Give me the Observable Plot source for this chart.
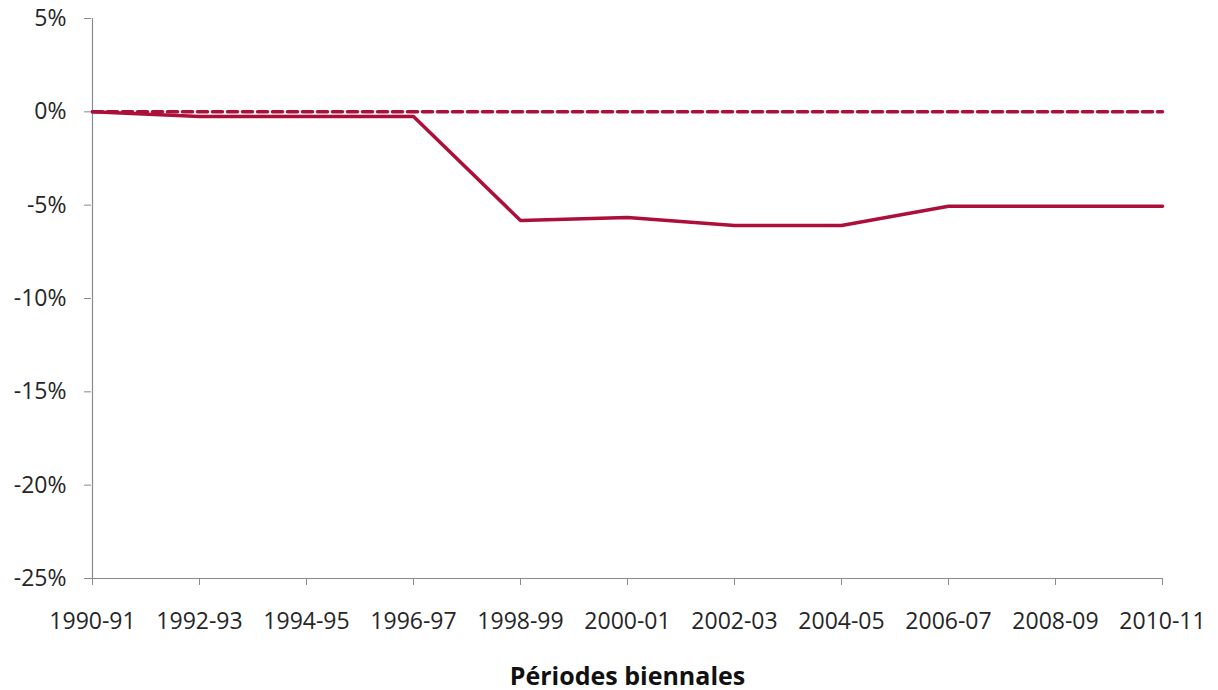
<!DOCTYPE html>
<html>
<head>
<meta charset="utf-8">
<script src="https://cdn.jsdelivr.net/npm/d3@7"></script>
<script src="https://cdn.jsdelivr.net/npm/@observablehq/plot@0.6"></script>
<style>
  html, body { margin: 0; padding: 0; background: #fff; }
  #chart svg { font-family: "Open Sans", "Liberation Sans", sans-serif; }
  g[aria-label="x-axis label"] text { font-weight: bold; font-size: 25px; fill: #111; }
</style>
</head>
<body>
<div id="chart"></div>
<script>
const periods = ["1990-91","1992-93","1994-95","1996-97","1998-99","2000-01","2002-03","2004-05","2006-07","2008-09","2010-11"];
const values = [0, -0.0025, -0.0025, -0.0025, -0.0582, -0.0566, -0.0609, -0.0609, -0.0506, -0.0506, -0.0506];
const reference = [0, 0, 0, 0, 0, 0, 0, 0, 0, 0, 0];
const yTicks = [0.05, 0, -0.05, -0.10, -0.15, -0.20, -0.25];
const xLabel = "Périodes biennales";

const series = periods.map((p, i) => ({period: p, value: values[i]}));
const refSeries = periods.map((p, i) => ({period: p, value: reference[i]}));

const color = "#ad0f3b";
const axisColor = "#8a8a8a";
const textColor = "#262626";

const chart = Plot.plot({
  width: 1218,
  height: 690,
  marginLeft: 91,
  marginRight: 55,
  marginTop: 18,
  marginBottom: 112,
  style: { fontSize: "23px", color: textColor, background: "#fff" },
  x: { type: "point", domain: periods, padding: 0 },
  y: { domain: [-0.25, 0.05] },
  marks: [
    Plot.axisY({
      ticks: yTicks,
      tickFormat: d => Math.round(d * 100) + "%",
      tickSize: 7,
      tickPadding: 18,
      stroke: axisColor,
      fill: textColor,
      label: null
    }),
    Plot.ruleX([periods[0]], { stroke: axisColor, strokeWidth: 1.2 }),
    Plot.axisX({
      tickSize: 7,
      tickPadding: 27,
      stroke: axisColor,
      fill: textColor,
      label: xLabel,
      labelAnchor: "center",
      labelArrow: "none",
      labelOffset: 106
    }),
    Plot.ruleY([-0.25], { stroke: axisColor, strokeWidth: 1.2 }),
    Plot.line(refSeries, { x: "period", y: "value", stroke: color, strokeWidth: 3.5, strokeDasharray: "10,5" }),
    Plot.line(series, { x: "period", y: "value", stroke: color, strokeWidth: 3.5, strokeLinejoin: "miter" })
  ]
});
document.getElementById("chart").append(chart);
</script>
</body>
</html>
